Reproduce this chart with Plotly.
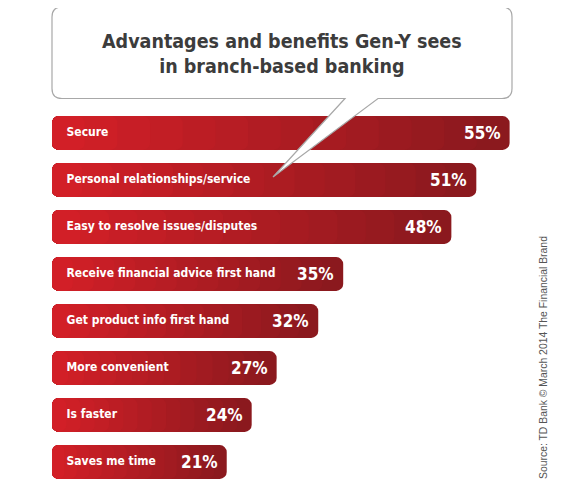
import plotly.graph_objects as go

# Data
categories = [
    "Secure",
    "Personal relationships/service",
    "Easy to resolve issues/disputes",
    "Receive financial advice first hand",
    "Get product info first hand",
    "More convenient",
    "Is faster",
    "Saves me time",
]
values = [55, 51, 48, 35, 32, 27, 24, 21]
value_labels = [f"{v}%" for v in values]

title_lines = ["Advantages and benefits Gen-Y sees", "in branch-based banking"]
source_text = "Source: TD Bank \u00a9 March 2014 The Financial Brand"

# Canvas / scale (pixels); the page body adds an 8px margin, so the
# figure is a bit smaller and every page position is shifted by OFF
OFF = 8
W, H = 565 - OFF, 484 - OFF
X0_PX = 52 - OFF    # where 0% sits
PX_PER_UNIT = 8.32  # pixels per percentage point
Y0_PX = 133 - OFF   # centre of first bar
ROW_PX = 47         # distance between bars

LEFT_RGB = (210, 31, 39)
RIGHT_RGB = (139, 25, 30)
N_STEPS = 14  # gradient steps along each bar

label_font = "DejaVu Sans Condensed, Liberation Sans Narrow, Arial Narrow, sans-serif"


def mix(t):
    r, g, b = (round(a + (c - a) * t) for a, c in zip(LEFT_RGB, RIGHT_RGB))
    return f"rgb({r},{g},{b})"


fig = go.Figure()

# right-hand end of each bar (rounded right corners), darkest colour
fig.add_trace(go.Bar(
    y=categories, x=[v / 2 for v in values], base=[v / 2 for v in values],
    orientation="h", width=0.72,
    marker=dict(color=mix(1.0), line_width=0, cornerradius=7),
    hoverinfo="skip", showlegend=False,
))

# gradient bands drawn as negative bars so the left corners are rounded
for k in range(N_STEPS - 2, -1, -1):
    frac = (k + 1) / N_STEPS
    fig.add_trace(go.Bar(
        y=categories, x=[-v * frac for v in values], base=[v * frac for v in values],
        orientation="h", width=0.72,
        marker=dict(color=mix(k / (N_STEPS - 1)), line_width=0, cornerradius=7),
        hoverinfo="skip", showlegend=False,
    ))

# category labels inside the bars
fig.add_trace(go.Scatter(
    y=categories, x=[1.75] * len(categories), mode="text",
    text=[f"<b>{c}</b>" for c in categories], textposition="middle right",
    textfont=dict(family=label_font, size=12, color="white"),
    hoverinfo="skip", showlegend=False,
))

# percentage labels at the bar ends
for cat, v, lab in zip(categories, values, value_labels):
    fig.add_annotation(
        x=v, y=cat, text=f"<b>{lab}</b>", showarrow=False,
        xanchor="right", xshift=-7,
        font=dict(family=label_font, size=17, color="white"),
    )


# speech bubble (page pixel coordinates -> paper)
def p(x, y):
    return f"{(x - OFF) / W:.5f},{1 - (y - OFF) / H:.5f}"


bx0, by0, bx1, by1, r = 52, 7, 512, 98.5, 10
tail_a, tail_b, tip = 345, 378, (273, 177)
bubble = (
    f"M {p(bx0 + r, by0)} L {p(bx1 - r, by0)} Q {p(bx1, by0)} {p(bx1, by0 + r)} "
    f"L {p(bx1, by1 - r)} Q {p(bx1, by1)} {p(bx1 - r, by1)} "
    f"L {p(tail_b, by1)} L {p(*tip)} L {p(tail_a, by1)} "
    f"L {p(bx0 + r, by1)} Q {p(bx0, by1)} {p(bx0, by1 - r)} "
    f"L {p(bx0, by0 + r)} Q {p(bx0, by0)} {p(bx0 + r, by0)} Z"
)
fig.add_shape(type="path", path=bubble, xref="paper", yref="paper",
              fillcolor="white", line=dict(color="#a8a8a8", width=1.2), layer="above")

fig.add_annotation(
    x=((bx0 + bx1) / 2 - OFF) / W, y=1 - (54 - OFF) / H, xref="paper", yref="paper",
    text="<b>" + "<br>".join(title_lines) + "</b>", showarrow=False,
    xanchor="center", yanchor="middle", align="center",
    font=dict(family=label_font, size=19.5, color="#3c3c3c"),
)

fig.add_annotation(
    x=(543 - OFF) / W, y=1 - (358 - OFF) / H, xref="paper", yref="paper",
    text=source_text, showarrow=False, textangle=-90,
    xanchor="center", yanchor="middle",
    font=dict(family="Liberation Sans, Arial, sans-serif", size=10.4, color="#555555"),
)

fig.update_layout(
    width=W, height=H,
    margin=dict(l=0, r=0, t=0, b=0),
    barmode="overlay",
    plot_bgcolor="white", paper_bgcolor="white",
    xaxis=dict(range=[-X0_PX / PX_PER_UNIT, (W - X0_PX) / PX_PER_UNIT],
               visible=False, fixedrange=True),
    yaxis=dict(categoryorder="array", categoryarray=categories,
               range=[(H - Y0_PX) / ROW_PX, -Y0_PX / ROW_PX],
               visible=False, fixedrange=True),
)

fig.write_html("out.html")
